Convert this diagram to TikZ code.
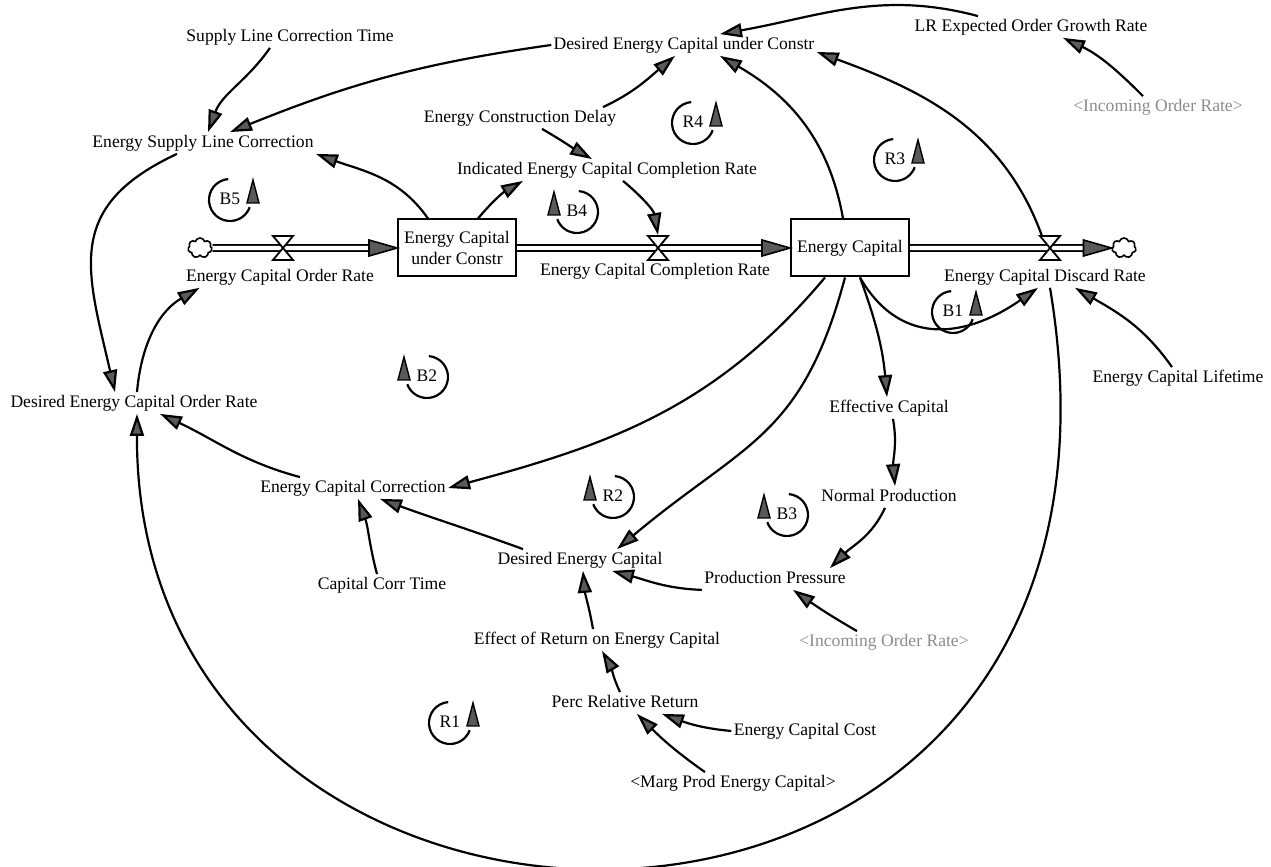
\documentclass[tikz,border=0pt]{standalone}
\usepackage{fontspec}
\setmainfont{Liberation Serif}
\definecolor{TipGray}{HTML}{5A5A5A}
\definecolor{GhostGray}{HTML}{8C8C8C}
\usetikzlibrary{arrows.meta,positioning,shapes.symbols}

\begin{document}
\begin{tikzpicture}[
    x=0.5pt, y=0.5pt,
    var/.style={
      inner sep=1pt,
      text height=6.5pt,
      text depth=2pt,
      font=\fontsize{8.8}{10.5}\selectfont
    },
    ghost/.style={var, text=GhostGray},
    stock/.style={
      draw,
      line width=1pt,
      fill=white,
      align=center,
      inner sep=1pt,
      minimum width=59pt,
      minimum height=28.5pt,
      font=\fontsize{8.8}{10.5}\selectfont
    },
    cloudy/.style={
      cloud, cloud puffs=7,
      draw, line width=0.8pt, fill=white,
      minimum width=12pt, minimum height=10pt, inner sep=0pt
    },
    link/.style={line width=1.1pt, -{Triangle[length=11pt, width=7pt, fill=TipGray]}},
    pipe/.style={line width=0.8pt, double=white, double distance=2.2pt},
    pipetip/.style={line width=0.8pt, fill=TipGray},
    loopline/.style={line width=1.1pt},
    looptip/.style={line width=0.7pt, fill=TipGray},
    pics/flowvalve/.style={code={
      \draw[fill=white, line width=0.9pt] (-10,12) -- (10,12) -- (-10,-12) -- (10,-12) -- cycle;
    }},
    pics/loopR/.style={code={
      \draw[loopline] (95:21) arc[start angle=95, end angle=340, radius=21];
      \filldraw[looptip] (23,20) -- (17,-3) -- (29,-3) -- cycle;
      \node[var] (-lbl) at (0,0) {#1};
    }},
    pics/loopL/.style={code={
      \draw[loopline] (85:21) arc[start angle=85, end angle=-160, radius=21];
      \filldraw[looptip] (-23,20) -- (-29,-3) -- (-17,-3) -- cycle;
      \node[var] (-lbl) at (0,0) {#1};
    }}
  ]
  \useasboundingbox (0,0) rectangle (1271,867);

  % variables, top part
  \node[var] (SLCT) at (290,830) {Supply Line Correction Time};
  \node[var] (ESLC) at (203,724) {Energy Supply Line Correction};
  \node[var] (DECUC) at (684,822) {Desired Energy Capital under Constr};
  \node[var] (LREOGR) at (1031,840) {LR Expected Order Growth Rate};
  \node[ghost] (IORtop) at (1158,760) {<Incoming Order Rate>};
  \node[var] (ECD) at (520,749) {Energy Construction Delay};
  \node[var] (IECCR) at (607,697) {Indicated Energy Capital Completion Rate};

  % stocks and flows
  \node[stock] (ECUC) at (457,619) {Energy Capital\\under Constr};
  \node[stock] (EC) at (850,619) {Energy Capital};
  \node[cloudy] (c1) at (200,619) {};
  \node[cloudy] (c2) at (1124,619) {};
  \coordinate (v1) at (283,619);
  \coordinate (v2) at (658,619);
  \coordinate (v3) at (1050,619);
  \node[var, below=9pt of v1, xshift=-1.5pt] (ECOR) {Energy Capital Order Rate};
  \node[var, below=6pt of v2, xshift=-1.5pt] (ECCR) {Energy Capital Completion Rate};
  \node[var, below=9pt of v3, xshift=-2.5pt] (ECDR) {Energy Capital Discard Rate};

  % variables, bottom part
  \node[var] (DECOR) at (134,464) {Desired Energy Capital Order Rate};
  \node[var] (ECC) at (353,379) {Energy Capital Correction};
  \node[var] (DEC) at (580,307) {Desired Energy Capital};
  \node[var] (CCT) at (382,282) {Capital Corr Time};
  \node[var] (EROEC) at (597,227) {Effect of Return on Energy Capital};
  \node[var] (PRR) at (625,164) {Perc Relative Return};
  \node[var] (PP) at (775,288) {Production Pressure};
  \node[ghost] (IORbot) at (884,225) {<Incoming Order Rate>};
  \node[var] (ECCost) at (805,136) {Energy Capital Cost};
  \node[var] (MPEC) at (733,84) {<Marg Prod Energy Capital>};
  \node[var] (EffCap) at (889,459) {Effective Capital};
  \node[var] (NP) at (889,370) {Normal Production};
  \node[var] (ECL) at (1178,489) {Energy Capital Lifetime};

  % pipes
  \draw[pipe, shorten >=13pt] (c1.east) -- (ECUC.west);
  \filldraw[pipetip] (ECUC.west) -- ++(-28,8) -- ++(0,-16) -- cycle;
  \draw[pipe, shorten >=13pt] (ECUC.east) -- (EC.west);
  \filldraw[pipetip] (EC.west) -- ++(-28,8) -- ++(0,-16) -- cycle;
  \draw[pipe, shorten >=13pt] (EC.east) -- (c2.west);
  \filldraw[pipetip] (c2.west) -- ++(-28,8) -- ++(0,-16) -- cycle;
  \pic at (v1) {flowvalve};
  \pic at (v2) {flowvalve};
  \pic at (v3) {flowvalve};

  % links
  \draw[link] ([xshift=-10pt]SLCT.south) to[out=235, in=70] ([xshift=2.5pt]ESLC.north);
  \draw[link] (DECUC.west) to[out=188, in=22] ([xshift=13.5pt]ESLC.north);
  \draw[link] ([xshift=-14.5pt]ECUC.north) to[out=125, in=-20] (ESLC.south east);
  \draw[link] ([xshift=-13pt]ESLC.south) to[out=205, in=103, looseness=1.3] ([xshift=-9.5pt]DECOR.north);
  \draw[link] ([xshift=1.5pt]DECOR.north) to[out=85, in=210] ([xshift=8pt]ECOR.south west);
  \draw[link] ([xshift=-26.5pt]ECC.north) to[out=165, in=-25] ([xshift=13pt]DECOR.south);
  \draw[link] ([xshift=2.5pt]ECDR.south) .. controls (1176,-170) and (135,-170) .. ([xshift=1.5pt]DECOR.south);
  \draw[link] ([xshift=-2.5pt]CCT.north) to[out=105, in=-70] ([xshift=2.5pt]ECC.south);
  \draw[link] ([xshift=-28.5pt]DEC.north) to[out=160, in=-20] ([xshift=13.5pt]ECC.south);
  \draw[link] ([xshift=-12.5pt]EC.south) to[out=230, in=15] (ECC.east);
  \draw[link] ([xshift=-2.5pt]EC.south) to[out=255, in=40, looseness=1.2] ([xshift=18.5pt]DEC.north);
  \draw[link] ([xshift=5pt]EC.south) to[out=290, in=95] ([xshift=-1pt]EffCap.north);
  \draw[link] ([xshift=2pt]EffCap.south) to[out=280, in=95] ([xshift=3pt]NP.north);
  \draw[link] ([xshift=-2pt]NP.south) to[out=245, in=45] ([xshift=27.5pt]PP.north);
  \draw[link] (PP.south west) to[out=178, in=-15] ([xshift=16pt]DEC.south);
  \draw[link] ([xshift=-13.5pt]IORbot.north) to[out=150, in=-35] ([xshift=9pt]PP.south);
  \draw[link] ([xshift=-2pt]EROEC.north) to[out=100, in=-85] ([xshift=1.5pt]DEC.south);
  \draw[link] ([xshift=-2.5pt]PRR.north) to[out=115, in=-60] ([xshift=2.5pt]EROEC.south);
  \draw[link] (ECCost.west) to[out=175, in=-20] ([xshift=18.5pt]PRR.south);
  \draw[link] ([xshift=-14pt]MPEC.north) to[out=145, in=-45] ([xshift=6pt]PRR.south);
  \draw[link] ([xshift=41.5pt]ECD.north) to[out=25, in=220] ([xshift=-4.5pt]DECUC.south);
  \draw[link] ([xshift=11pt]ECD.south) to[out=-30, in=150] ([xshift=-7.5pt]IECCR.north);
  \draw[link] ([xshift=10.5pt]ECUC.north) to[out=50, in=210] ([xshift=-42pt]IECCR.south);
  \draw[link] ([xshift=8pt]IECCR.south) to[out=-40, in=100] ([yshift=6.5pt]v2);
  \draw[link] ([xshift=-3.5pt]EC.north) to[out=100, in=-30] ([xshift=18pt]DECUC.south);
  \draw[link] ([xshift=-4pt, yshift=6pt]v3) to[out=110, in=-20] ([yshift=-3.5pt]DECUC.east);
  \draw[link] ([xshift=-26.5pt]LREOGR.north) to[out=165, in=10] ([xshift=18pt]DECUC.north);
  \draw[link] ([xshift=-7.5pt]IORtop.north) to[out=135, in=-25] ([xshift=16pt]LREOGR.south);
  \draw[link] ([xshift=5pt]EC.south) to[out=-60, in=215, looseness=1.2] ([xshift=-3.5pt]ECDR.south);
  \draw[link] ([xshift=-3pt]ECL.north) to[out=125, in=-30] ([xshift=15pt]ECDR.south);

  % loop markers
  \pic (B5) at (230,667) {loopR=B5};
  \pic (R4) at (693,744) {loopR=R4};
  \pic (R3) at (895,707) {loopR=R3};
  \pic (B4) at (577,655) {loopL=B4};
  \pic (B1) at (953,555) {loopR=B1};
  \pic (B2) at (427,490) {loopL=B2};
  \pic (R2) at (613,370) {loopL=R2};
  \pic (B3) at (787,352) {loopL=B3};
  \pic (R1) at (450,144) {loopR=R1};
\end{tikzpicture}
\end{document}
